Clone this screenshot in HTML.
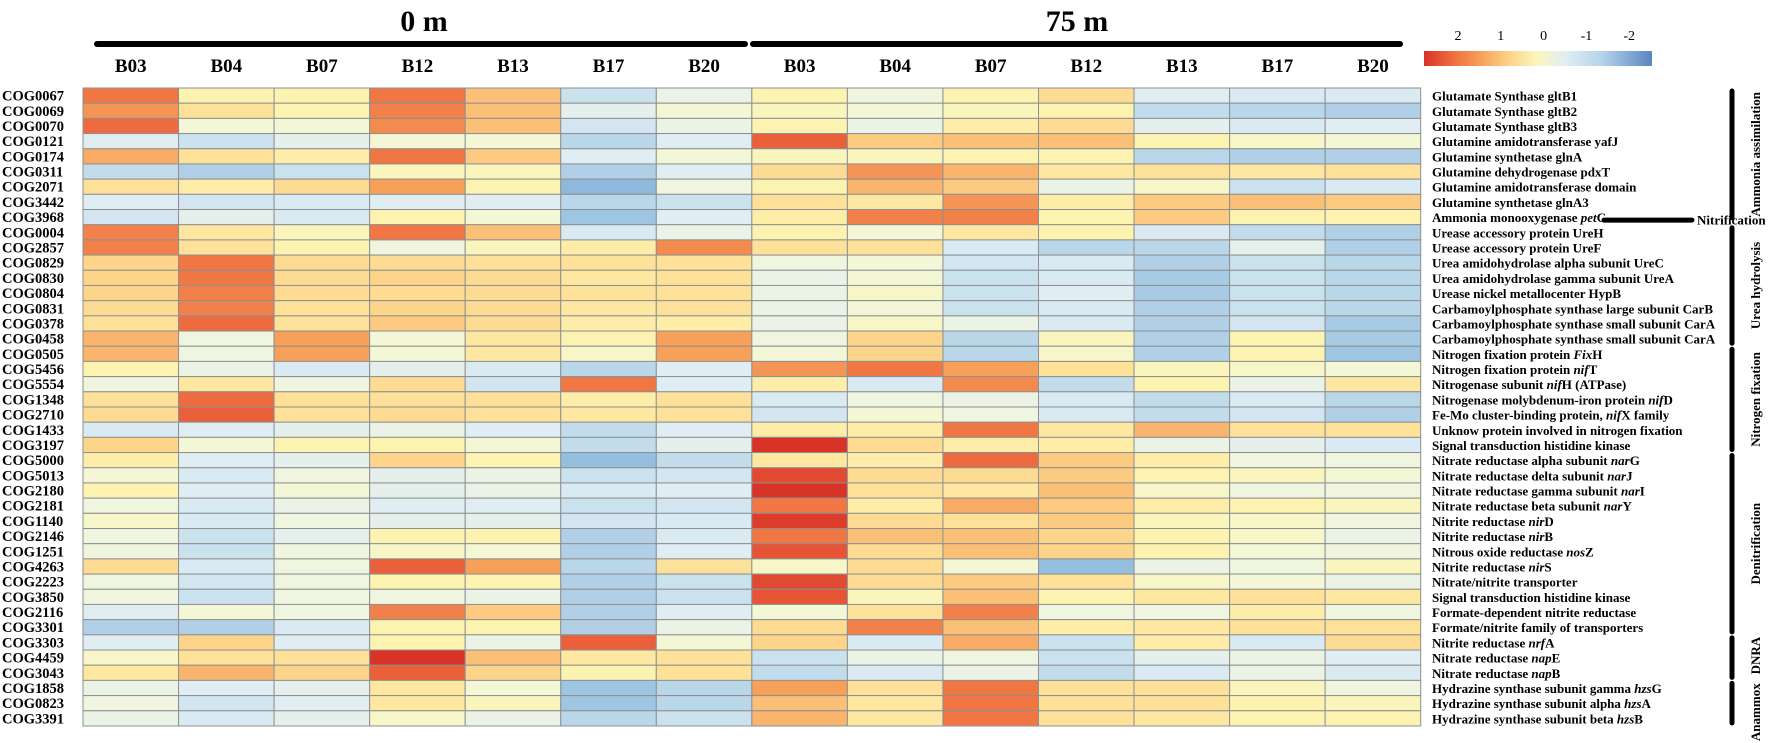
<!DOCTYPE html>
<html><head><meta charset="utf-8">
<style>
html,body{margin:0;padding:0;background:#fff;}
svg{display:block;font-family:"Liberation Serif",serif;font-weight:bold;}
</style></head>
<body>
<svg id="chart" width="1772" height="743" viewBox="0 0 1772 743" xmlns="http://www.w3.org/2000/svg">
  <text x="424" y="31" font-size="30" text-anchor="middle">0 m</text>
  <text x="1077" y="31" font-size="30" text-anchor="middle">75 m</text>
  <line x1="97" y1="44" x2="745" y2="44" stroke="#000" stroke-width="6" stroke-linecap="round"/>
  <line x1="753" y1="44" x2="1400" y2="44" stroke="#000" stroke-width="6" stroke-linecap="round"/>
  <g id="legend">
    <defs>
      <linearGradient id="lg" x1="0" x2="1" y1="0" y2="0">
        <stop offset="0" stop-color="#d93226"/>
        <stop offset="0.12" stop-color="#ee6b3f"/>
        <stop offset="0.25" stop-color="#f7a05a"/>
        <stop offset="0.38" stop-color="#fdd58a"/>
        <stop offset="0.5" stop-color="#fbf7c0"/>
        <stop offset="0.62" stop-color="#e0eef4"/>
        <stop offset="0.78" stop-color="#b5d3ea"/>
        <stop offset="1" stop-color="#5a87c0"/>
      </linearGradient>
    </defs>
    <rect x="1424" y="51" width="228" height="15" fill="url(#lg)"/>
  </g>
  <g id="cells"></g>
  <g id="collabels"></g>
  <g id="rowlabels"></g>
  <g id="funclabels"></g>
  <g id="groups"></g>
</svg>
<script>
const columnLabels = ["B03","B04","B07","B12","B13","B17","B20","B03","B04","B07","B12","B13","B17","B20"];
const legendTicks = [2,1,0,-1,-2];
const cogIds = ["COG0067","COG0069","COG0070","COG0121","COG0174","COG0311","COG2071","COG3442","COG3968","COG0004","COG2857","COG0829","COG0830","COG0804","COG0831","COG0378","COG0458","COG0505","COG5456","COG5554","COG1348","COG2710","COG1433","COG3197","COG5000","COG5013","COG2180","COG2181","COG1140","COG2146","COG1251","COG4263","COG2223","COG3850","COG2116","COG3301","COG3303","COG4459","COG3043","COG1858","COG0823","COG3391"];
const funcNames = [
 ["Glutamate Synthase gltB1"],["Glutamate Synthase gltB2"],["Glutamate Synthase gltB3"],
 ["Glutamine amidotransferase yafJ"],["Glutamine synthetase glnA"],["Glutamine dehydrogenase pdxT"],
 ["Glutamine amidotransferase domain"],["Glutamine synthetase glnA3"],["Ammonia monooxygenase ","pet","C"],
 ["Urease accessory protein UreH"],["Urease accessory protein UreF"],["Urea amidohydrolase alpha subunit UreC"],
 ["Urea amidohydrolase gamma subunit UreA"],["Urease nickel metallocenter HypB"],
 ["Carbamoylphosphate synthase large subunit CarB"],["Carbamoylphosphate synthase small subunit CarA"],
 ["Carbamoylphosphate synthase small subunit CarA"],["Nitrogen fixation protein ","Fix","H"],
 ["Nitrogen fixation protein ","nif","T"],["Nitrogenase subunit ","nif","H (ATPase)"],
 ["Nitrogenase molybdenum-iron protein ","nif","D"],["Fe-Mo cluster-binding protein, ","nif","X family"],
 ["Unknow protein involved in nitrogen fixation"],["Signal transduction histidine kinase"],
 ["Nitrate reductase alpha subunit ","nar","G"],["Nitrate reductase delta subunit ","nar","J"],
 ["Nitrate reductase gamma subunit ","nar","I"],["Nitrate reductase beta subunit ","nar","Y"],
 ["Nitrite reductase ","nir","D"],["Nitrite reductase ","nir","B"],["Nitrous oxide reductase ","nos","Z"],
 ["Nitrite reductase ","nir","S"],["Nitrate/nitrite transporter"],["Signal transduction histidine kinase"],
 ["Formate-dependent nitrite reductase"],["Formate/nitrite family of transporters"],
 ["Nitrite reductase ","nrf","A"],["Nitrate reductase ","nap","E"],["Nitrate reductase ","nap","B"],
 ["Hydrazine synthase subunit gamma ","hzs","G"],["Hydrazine synthase subunit alpha ","hzs","A"],
 ["Hydrazine synthase subunit beta ","hzs","B"]];
const heatValues = [
 [1.7,0.3,0.3,1.7,1.0,-0.7,-0.2, 0.3,-0.1,0.3,0.7,-0.4,-0.5,-0.5],
 [1.4,0.6,0.3,1.6,1.0,-0.3,0.0, 0.2,0.0,0.2,0.3,-0.8,-0.9,-1.0],
 [1.8,0.0,0.0,1.5,1.0,-0.6,-0.2, 0.3,-0.2,0.4,0.7,-0.3,-0.5,-0.4],
 [-0.4,-0.7,-0.3,0.0,0.0,-0.9,-0.4, 1.9,0.9,1.0,1.0,0.3,0.1,0.0],
 [1.2,0.6,0.4,1.7,0.9,-0.4,0.0, 0.2,0.2,0.3,0.3,-0.9,-1.0,-1.0],
 [-0.8,-1.0,-0.7,0.2,0.2,-1.0,-0.4, 0.7,1.4,1.1,0.5,0.6,0.5,0.6],
 [0.6,0.4,0.7,1.3,0.3,-1.4,-0.1, 0.3,1.1,0.9,-0.2,0.1,-0.7,-0.5],
 [-0.4,-0.6,-0.5,-0.4,-0.4,-0.9,-0.7, 0.6,0.5,1.4,0.4,0.9,1.0,0.9],
 [-0.6,-0.3,-0.5,0.3,0.0,-1.2,-0.4, 0.4,1.6,1.6,0.3,0.9,0.3,0.3],
 [1.6,0.5,0.2,1.7,1.0,-0.5,-0.2, 0.3,0.0,0.5,0.3,-0.5,-0.8,-1.0],
 [1.6,0.6,0.3,-0.1,0.2,0.4,1.5, 0.6,0.6,-0.5,-0.9,-0.9,-0.3,-1.0],
 [0.8,1.7,0.7,0.7,0.6,0.6,0.6, -0.1,0.0,-0.6,-0.5,-1.0,-0.7,-0.9],
 [0.8,1.7,0.7,0.8,0.7,0.5,0.6, -0.2,0.0,-0.7,-0.5,-1.1,-0.7,-0.9],
 [0.8,1.6,0.7,0.7,0.7,0.6,0.6, -0.2,0.1,-0.7,-0.4,-1.1,-0.7,-0.9],
 [0.7,1.6,0.6,0.8,0.7,0.5,0.6, -0.2,0.0,-0.7,-0.5,-1.0,-0.7,-0.9],
 [0.6,1.8,0.6,0.9,0.7,0.4,0.4, -0.2,0.1,-0.2,-0.5,-1.0,-0.6,-1.1],
 [1.1,-0.1,1.3,0.0,0.5,0.3,1.3, -0.1,0.8,-0.9,0.2,-1.0,0.3,-1.1],
 [1.1,-0.1,1.3,0.0,0.5,0.1,1.3, 0.0,0.8,-0.9,0.1,-1.0,0.3,-1.2],
 [0.3,-0.2,-0.5,-0.3,-0.5,-0.9,-0.4, 1.4,1.7,1.3,0.6,0.2,0.1,0.0],
 [-0.1,0.5,-0.1,0.7,-0.6,1.7,-0.4, 0.4,-0.5,1.5,-0.8,0.3,-0.2,0.5],
 [0.6,1.8,0.6,0.6,0.6,0.4,0.6, -0.5,-0.1,-0.2,-0.5,-0.8,-0.5,-0.9],
 [0.7,1.9,0.6,0.7,0.6,0.5,0.6, -0.6,0.0,-0.1,-0.5,-0.8,-0.6,-1.0],
 [-0.5,-0.4,-0.3,-0.2,-0.4,-0.8,-0.4, 0.4,0.4,1.7,0.5,1.1,0.6,0.6],
 [0.8,0.0,0.3,0.3,0.0,-0.8,-0.3, 2.3,0.7,0.4,0.4,-0.2,-0.3,-0.5],
 [0.4,-0.4,-0.3,0.8,0.3,-1.3,-0.8, 0.5,0.4,1.8,0.9,0.4,-0.1,-0.1],
 [0.0,-0.5,-0.1,-0.3,-0.2,-0.7,-0.6, 2.1,0.7,0.7,0.9,0.3,0.2,0.0],
 [0.3,-0.4,0.0,-0.3,-0.2,-0.5,-0.4, 2.3,0.6,0.5,1.0,0.1,-0.1,-0.1],
 [-0.1,-0.5,-0.2,-0.4,-0.4,-0.7,-0.6, 1.7,0.4,1.2,0.9,0.4,0.3,0.2],
 [0.1,-0.5,-0.1,-0.3,-0.3,-0.6,-0.5, 2.2,0.7,0.6,0.9,0.2,0.1,-0.1],
 [-0.1,-0.7,-0.3,0.3,0.3,-1.0,-0.5, 1.7,1.0,1.0,0.8,0.3,0.1,-0.2],
 [-0.1,-0.7,-0.1,0.1,0.0,-1.0,-0.4, 2.0,0.7,1.0,0.8,0.3,0.0,-0.1],
 [0.7,-0.5,-0.1,1.9,1.3,-0.9,0.6, 0.1,0.7,0.0,-1.3,-0.2,-0.1,0.2],
 [-0.1,-0.6,-0.1,0.3,0.3,-1.0,-0.7, 2.1,0.7,0.9,0.6,0.1,0.0,-0.2],
 [-0.1,-0.7,-0.1,-0.1,-0.2,-1.0,-0.7, 2.0,0.2,1.0,0.3,0.5,0.6,0.5],
 [-0.4,0.0,-0.1,1.6,0.9,-1.0,-0.4, 0.0,0.6,1.6,-0.1,-0.1,0.4,-0.1],
 [-1.0,-1.0,-0.5,0.3,0.3,-1.0,-0.2, 0.7,1.6,1.0,0.4,0.5,0.6,0.6],
 [-0.4,0.8,-0.4,0.3,-0.2,1.9,0.0, 0.8,-0.5,1.2,-0.7,0.4,-0.5,0.7],
 [0.1,0.6,0.6,2.3,1.0,0.5,0.6, -0.7,-0.2,-0.1,-0.7,-0.3,-0.2,-0.4],
 [0.5,1.1,0.8,1.9,0.8,0.3,0.6, -0.8,-0.5,-0.2,-0.8,-0.5,-0.2,-0.5],
 [-0.2,-0.4,-0.3,0.5,0.0,-1.2,-0.9, 1.3,0.6,1.7,0.6,0.6,0.2,-0.1],
 [-0.1,-0.6,-0.4,0.5,0.2,-1.2,-0.9, 1.0,0.5,1.7,0.6,0.6,0.3,0.2],
 [-0.2,-0.5,-0.3,0.1,-0.2,-0.9,-0.7, 1.1,0.5,1.7,0.6,0.5,0.3,0.3]];
const groupNames = ["Ammonia assimilation","Urea hydrolysis","Nitrogen fixation","Denitrification","DNRA","Anammox"];
const groupStart = [0,9,17,24,36,39];
const groupEnd = [8,16,23,35,38,41];
const nitrificationRow = 8;

const NS="http://www.w3.org/2000/svg";
const X0=83, CW=95.55, Y0=88, RH=15.19;
function xPos(c){return X0+c*CW;}
function yPos(r){return Y0+r*RH;}
const stopV=[2.3,1.8,1.3,0.8,0.3,0,-0.4,-0.8,-1.3,-2.2];
const stopC=[[217,50,38],[238,107,63],[247,160,90],[253,213,138],[253,243,176],[244,247,214],[224,238,244],[195,220,236],[149,191,223],[90,135,192]];
function colorFor(v){
  if(v>=stopV[0]) return "rgb("+stopC[0].join(",")+")";
  for(let i=0;i<stopV.length-1;i++){
    if(v<=stopV[i]&&v>=stopV[i+1]){
      const t=(stopV[i]-v)/(stopV[i]-stopV[i+1]);
      const c=stopC[i].map((a,k)=>Math.round(a+(stopC[i+1][k]-a)*t));
      return "rgb("+c.join(",")+")";
    }
  }
  return "rgb("+stopC[stopC.length-1].join(",")+")";
}
function mk(tag,attrs,parent){const e=document.createElementNS(NS,tag);for(const k in attrs)e.setAttribute(k,attrs[k]);parent.appendChild(e);return e;}

const cells=document.getElementById("cells");
heatValues.forEach((row,r)=>{
  row.forEach((v,c)=>{
    const e=mk("rect",{x:xPos(c),y:yPos(r),width:CW,height:RH,fill:colorFor(v),stroke:"#8e9090","stroke-width":1},cells);
    
    
  });
});
const cl=document.getElementById("collabels");
columnLabels.forEach((t,c)=>{
  const e=mk("text",{x:xPos(c)+CW/2,y:72,"font-size":19,"text-anchor":"middle"},cl);
  e.textContent=t;
  
  
});
const rl=document.getElementById("rowlabels");
cogIds.forEach((t,r)=>{
  const e=mk("text",{x:2,y:yPos(r)+RH/2+5,"font-size":14.5},rl);
  e.textContent=t;
  
  
});
const fl=document.getElementById("funclabels");
funcNames.forEach((parts,r)=>{
  const e=mk("text",{x:1432,y:yPos(r)+RH/2+5,"font-size":13},fl);
  
  
  parts.forEach((p,i)=>{const s=mk("tspan",i===1?{"font-style":"italic"}:{},e);s.textContent=p;});
});
const lg=document.getElementById("legend");
legendTicks.forEach((t,i)=>{
  const e=mk("text",{x:1458+i*42.8,y:40,"font-size":14,"font-weight":"normal","text-anchor":"middle"},lg);
  e.textContent=t;
  
  
});
const gg=document.getElementById("groups");
groupNames.forEach((g,i)=>{
  let y1=yPos(groupStart[i])+3, y2=yPos(groupEnd[i]+1)-3;
  if(i===0) y2-=4;
  const ln=mk("line",{x1:1732,x2:1732,y1:y1,y2:y2,stroke:"#000","stroke-width":5,"stroke-linecap":"round"},gg);
  
  
  let cy=(y1+y2)/2;
  if(g==="Anammox") cy+=9;
  if(g==="DNRA") cy-=2;
  const t=mk("text",{x:1760,y:cy,"font-size":13,"text-anchor":"middle",transform:"rotate(-90 1760 "+cy+")"},gg);
  t.textContent=g;
  
  
});
const ny=yPos(nitrificationRow)+RH/2+3;
const nl=mk("line",{x1:1604,x2:1692,y1:ny,y2:ny,stroke:"#000","stroke-width":5,"stroke-linecap":"round"},gg);


const nt=mk("text",{x:1697,y:ny+4.5,"font-size":13},gg);
nt.textContent="Nitrification";


</script>
</body></html>
